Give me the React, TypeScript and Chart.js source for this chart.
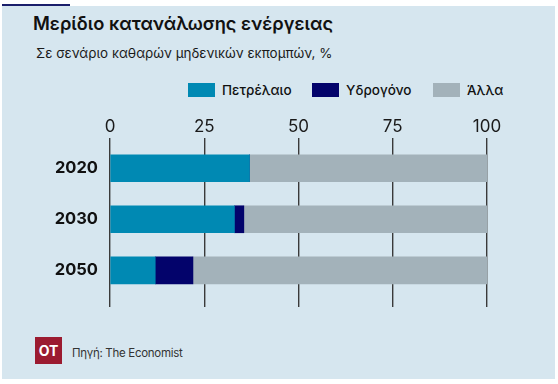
import React, { useEffect, useRef } from "react";
import { Chart, registerables } from "chart.js";

Chart.register(...registerables);

// ---- data ----
const categories = ["2020", "2030", "2050"];
const oil = [37, 33, 12];
const hydrogen = [0, 2.5, 10];
const other = [63, 64.5, 78];
const seriesNames = ["Πετρέλαιο", "Υδρογόνο", "Άλλα"];
const xTicks = [0, 25, 50, 75, 100];

const colors = ["#0089B3", "#03036B", "#A3B2BA"];
const FONT = "Inter, 'Noto Sans', sans-serif";

export default function App() {
  const canvasRef = useRef<HTMLCanvasElement | null>(null);

  useEffect(() => {
    const canvas = canvasRef.current;
    if (!canvas) return;
    const series = [oil, hydrogen, other];
    const chart = new Chart(canvas, {
      type: "bar",
      data: {
        datasets: series.map((vals, si) => ({
          label: seriesNames[si],
          data: vals.map((v, i) => ({ x: v, y: i })),
          backgroundColor: colors[si],
          borderWidth: 0,
          barThickness: 27,
        })),
      },
      options: {
        indexAxis: "y",
        animation: false,
        responsive: false,
        maintainAspectRatio: false,
        layout: { padding: { left: 0, right: 71, top: 0, bottom: 13 } },
        plugins: {
          legend: { display: false },
          tooltip: { enabled: false },
          title: { display: false },
        },
        scales: {
          x: {
            type: "linear",
            position: "top",
            stacked: true,
            min: 0,
            max: 100,
            afterBuildTicks: (scale: any) => {
              scale.ticks = xTicks.map((v) => ({ value: v }));
            },
            afterFit: (scale: any) => {
              scale.height = 38;
            },
            grid: {
              color: "#3a3a3a",
              lineWidth: 1.4,
              drawTicks: false,
            },
            border: { display: false },
            ticks: {
              padding: 1,
              color: "#1a1a1a",
              font: { family: FONT, size: 17, weight: "400" },
            },
          },
          y: {
            type: "linear",
            reverse: true,
            stacked: true,
            offset: false,
            bounds: "data",
            min: -0.592,
            max: 2.719,
            afterBuildTicks: (scale: any) => {
              scale.ticks = categories.map((_, i) => ({ value: i }));
            },
            afterFit: (scale: any) => {
              scale.width = 110;
              scale.paddingTop = 0;
              scale.paddingBottom = 0;
            },
            grid: { display: false, drawTicks: false, offset: false },
            border: { display: false },
            ticks: {
              padding: 12,
              color: "#111111",
              font: { family: FONT, size: 16.5, weight: "700" },
              callback: (v: any) => categories[Number(v)] ?? "",
            },
          },
        },
      },
    });
    return () => chart.destroy();
  }, []);

  const legendX = [188, 312, 433];

  return (
    <div
      style={{
        position: "fixed",
        left: 0,
        top: 0,
        width: 558,
        height: 384,
        background: "#ffffff",
        fontFamily: FONT,
        overflow: "hidden",
      }}
    >
      <div
        style={{
          position: "absolute",
          left: 2,
          top: 6,
          width: 553,
          height: 373,
          background: "#D6E6EF",
        }}
      />
      <div
        style={{
          position: "absolute",
          left: 2,
          top: 4,
          width: 68,
          height: 2,
          background: "#1B1F6B",
        }}
      />
      <div
        style={{
          position: "absolute",
          left: 33,
          top: 11,
          fontSize: 18.3,
          fontWeight: 600,
          color: "#111111",
          whiteSpace: "nowrap",
          lineHeight: "24px",
        }}
      >
        Μερίδιο κατανάλωσης ενέργειας
      </div>
      <div
        style={{
          position: "absolute",
          left: 36,
          top: 44,
          fontSize: 13.4,
          fontWeight: 400,
          color: "#1a1a1a",
          whiteSpace: "nowrap",
          lineHeight: "18px",
        }}
      >
        Σε σενάριο καθαρών μηδενικών εκπομπών, %
      </div>
      {seriesNames.map((name, i) => (
        <div
          key={name}
          style={{
            position: "absolute",
            left: legendX[i],
            top: 83,
            height: 14,
            display: "flex",
            alignItems: "center",
            whiteSpace: "nowrap",
          }}
        >
          <div
            style={{ width: 27, height: 14, background: colors[i], marginRight: 7 }}
          />
          <span style={{ fontSize: 13.5, fontWeight: 500, color: "#111111" }}>{name}</span>
        </div>
      ))}
      <canvas
        ref={canvasRef}
        width={558}
        height={220}
        style={{ position: "absolute", left: 0, top: 100, width: 558, height: 220 }}
      />
      <div
        style={{
          position: "absolute",
          left: 35,
          top: 337,
          width: 27,
          height: 27,
          background: "#9B1B30",
          color: "#ffffff",
          fontWeight: 700,
          fontSize: 14,
          display: "flex",
          alignItems: "center",
          justifyContent: "center",
        }}
      >
        OT
      </div>
      <div
        style={{
          position: "absolute",
          left: 72,
          top: 345,
          fontSize: 11.5,
          color: "#333333",
          whiteSpace: "nowrap",
          lineHeight: "16px",
          letterSpacing: -0.3,
        }}
      >
        Πηγή: The Economist
      </div>
    </div>
  );
}
